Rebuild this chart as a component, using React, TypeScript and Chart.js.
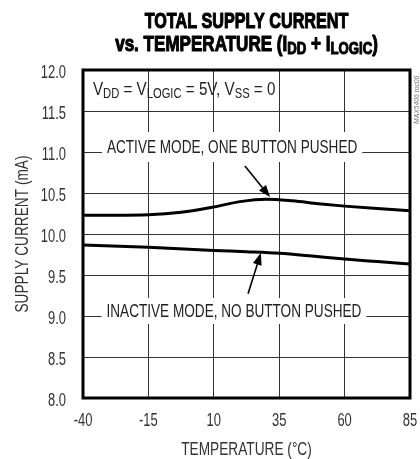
import React, { useEffect, useRef } from "react";
import { Chart, registerables } from "chart.js";

Chart.register(...registerables);

// ---- data ----
const temperatureTicks = [-40, -15, 10, 35, 60, 85];
const currentTicks = [8.0, 8.5, 9.0, 9.5, 10.0, 10.5, 11.0, 11.5, 12.0];

const activeTemps = [-40, -27.5, -15, -2.5, 10, 20, 30, 40, 50, 60, 72.5, 85];
const activeCurrent = [10.23, 10.23, 10.235, 10.265, 10.33, 10.395, 10.425, 10.405, 10.37, 10.34, 10.31, 10.285];

const inactiveTemps = [-40, -15, 10, 22.5, 35, 47.5, 60, 72.5, 85];
const inactiveCurrent = [9.866, 9.838, 9.8, 9.784, 9.765, 9.732, 9.695, 9.664, 9.634];

// ---- text ----
type Seg = [string, boolean];
const titleLine1: Seg[] = [["TOTAL SUPPLY CURRENT", false]];
const titleLine2: Seg[] = [["vs. TEMPERATURE (I", false], ["DD", true], [" + I", false], ["LOGIC", true], [")", false]];
const conditionLabel: Seg[] = [["V", false], ["DD", true], [" = V", false], ["LOGIC", true], [" = 5V, V", false], ["SS", true], [" = 0", false]];
const activeLabel = "ACTIVE MODE, ONE BUTTON PUSHED";
const inactiveLabel = "INACTIVE MODE, NO BUTTON PUSHED";
const xTitle = "TEMPERATURE (\u00B0C)";
const yTitle = "SUPPLY CURRENT (mA)";
const watermark = "MAX5406 toc06";

// annotation anchors in data units [temperature, current]
const conditionAnchor = [-36.2, 11.695];
const activeLabelAnchor = [17.0, 11.0];
const inactiveLabelAnchor = [17.7, 9.0];
const activeArrow = [[21.9, 10.83], [31.5, 10.45]];
const inactiveArrow = [[23.1, 9.27], [28.0, 9.77]];

const FONT = '"Liberation Sans", Arial, Helvetica, sans-serif';

interface TextOpts {
  size: number;
  subSize?: number;
  subDrop?: number;
  weight?: string;
  style?: string;
  sx: number;
  align: "left" | "center" | "right";
  color: string;
  stroke?: number;
}

function segWidth(ctx: CanvasRenderingContext2D, segs: Seg[], o: TextOpts) {
  let total = 0;
  for (const [t, sub] of segs) {
    ctx.font = `${o.style || "normal"} ${o.weight || "normal"} ${sub ? o.subSize : o.size}px ${FONT}`;
    total += ctx.measureText(t).width;
  }
  return total;
}

function drawText(ctx: CanvasRenderingContext2D, segs: Seg[], x: number, y: number, o: TextOpts) {
  const total = segWidth(ctx, segs, o);
  ctx.save();
  ctx.translate(x, y);
  ctx.scale(o.sx, 1);
  ctx.fillStyle = o.color;
  ctx.strokeStyle = o.color;
  ctx.lineJoin = "round";
  ctx.textAlign = "left";
  ctx.textBaseline = "alphabetic";
  let cx = o.align === "left" ? 0 : o.align === "center" ? -total / 2 : -total;
  for (const [t, sub] of segs) {
    ctx.font = `${o.style || "normal"} ${o.weight || "normal"} ${sub ? o.subSize : o.size}px ${FONT}`;
    const ty = sub ? o.subDrop || 0 : 0;
    ctx.fillText(t, cx, ty);
    if (o.stroke) {
      ctx.lineWidth = o.stroke;
      ctx.strokeText(t, cx, ty);
    }
    cx += ctx.measureText(t).width;
  }
  ctx.restore();
  return total * o.sx;
}

function drawArrow(ctx: CanvasRenderingContext2D, x1: number, y1: number, x2: number, y2: number) {
  const ang = Math.atan2(y2 - y1, x2 - x1);
  const len = 12;
  const hw = 4.5;
  const bx = x2 - len * Math.cos(ang);
  const by = y2 - len * Math.sin(ang);
  ctx.strokeStyle = "#000";
  ctx.lineWidth = 1.6;
  ctx.beginPath();
  ctx.moveTo(x1, y1);
  ctx.lineTo(bx, by);
  ctx.stroke();
  ctx.fillStyle = "#000";
  ctx.beginPath();
  ctx.moveTo(x2, y2);
  ctx.lineTo(bx + hw * Math.sin(ang), by - hw * Math.cos(ang));
  ctx.lineTo(bx - hw * Math.sin(ang), by + hw * Math.cos(ang));
  ctx.closePath();
  ctx.fill();
}

const TICK: TextOpts = { size: 18, sx: 0.72, align: "right", color: "#333" };
const LABEL: TextOpts = { size: 19, sx: 0.715, align: "center", color: "#222" };
const COND: TextOpts = { size: 19, subSize: 14, subDrop: 3, sx: 0.8, align: "left", color: "#222" };
const AXIS_T: TextOpts = { size: 18, sx: 0.76, align: "center", color: "#333" };
const TITLE1: TextOpts = { size: 22, weight: "bold", sx: 0.735, align: "center", color: "#000", stroke: 1.1 };
const TITLE2: TextOpts = { size: 22, subSize: 17, subDrop: 3, weight: "bold", sx: 0.775, align: "center", color: "#000", stroke: 1.1 };

const annotationPlugin = {
  id: "annotations",
  beforeDatasetsDraw(chart: any) {
    const { ctx } = chart;
    const x = chart.scales.x;
    const y = chart.scales.y;
    ctx.save();
    drawText(ctx, conditionLabel, x.getPixelForValue(conditionAnchor[0]), y.getPixelForValue(conditionAnchor[1]), COND);
    const labels: [string, number[], number, number][] = [
      [activeLabel, activeLabelAnchor, 21, 9],
      [inactiveLabel, inactiveLabelAnchor, 19, 7],
    ];
    for (const [text, anchor, up, down] of labels) {
      const w = segWidth(ctx, [[text, false]], LABEL) * LABEL.sx;
      const cx = x.getPixelForValue(anchor[0]);
      const by = y.getPixelForValue(anchor[1]) + 1;
      ctx.fillStyle = "#fff";
      ctx.fillRect(cx - w / 2 - 5, by - up, w + 10, up + down);
      drawText(ctx, [[text, false]], cx, by, LABEL);
    }
    ctx.restore();
  },
  afterDatasetsDraw(chart: any) {
    const { ctx } = chart;
    const x = chart.scales.x;
    const y = chart.scales.y;
    ctx.save();
    for (const a of [activeArrow, inactiveArrow]) {
      drawArrow(ctx, x.getPixelForValue(a[0][0]), y.getPixelForValue(a[0][1]), x.getPixelForValue(a[1][0]), y.getPixelForValue(a[1][1]));
    }
    ctx.restore();
  },
  afterDraw(chart: any) {
    const { ctx, chartArea } = chart;
    const { left, right, top, bottom } = chartArea;
    const xs = chart.scales.x;
    const ys = chart.scales.y;
    const cx = (left + right) / 2;
    ctx.save();
    // frame
    ctx.strokeStyle = "#000";
    ctx.lineWidth = 3;
    ctx.strokeRect(left, top, right - left, bottom - top);
    // tick labels from the library's scales
    for (const t of ys.ticks) {
      const py = ys.getPixelForValue(t.value);
      drawText(ctx, [[Number(t.value).toFixed(1), false]], left - 17, py + 8, TICK);
    }
    for (const t of xs.ticks) {
      const px = xs.getPixelForValue(t.value);
      drawText(ctx, [[String(t.value), false]], px, bottom + 28, { ...TICK, align: "center" });
    }
    // title
    drawText(ctx, titleLine1, cx, 28, TITLE1);
    drawText(ctx, titleLine2, cx, 51, TITLE2);
    // axis titles
    drawText(ctx, [[xTitle, false]], cx, 455, AXIS_T);
    ctx.save();
    ctx.translate(28, (top + bottom) / 2);
    ctx.rotate(-Math.PI / 2);
    drawText(ctx, [[yTitle, false]], 0, 0, AXIS_T);
    ctx.restore();
    // watermark
    ctx.save();
    ctx.translate(419, 124);
    ctx.rotate(-Math.PI / 2);
    drawText(ctx, [[watermark, false]], 0, 0, { size: 8, style: "italic", sx: 0.85, align: "left", color: "#777" });
    ctx.restore();
    ctx.restore();
  },
};

export default function App() {
  const canvasRef = useRef<HTMLCanvasElement | null>(null);

  useEffect(() => {
    const canvas = canvasRef.current;
    if (!canvas) return;
    const chart = new Chart(canvas, {
      type: "line",
      data: {
        datasets: [
          {
            label: "Active mode",
            data: activeTemps.map((t, i) => ({ x: t, y: activeCurrent[i] })),
            borderColor: "#000",
            borderWidth: 3,
            pointRadius: 0,
            cubicInterpolationMode: "monotone",
            fill: false,
          },
          {
            label: "Inactive mode",
            data: inactiveTemps.map((t, i) => ({ x: t, y: inactiveCurrent[i] })),
            borderColor: "#000",
            borderWidth: 3,
            pointRadius: 0,
            cubicInterpolationMode: "monotone",
            fill: false,
          },
        ],
      },
      options: {
        responsive: false,
        animation: false,
        devicePixelRatio: 1,
        layout: { padding: { top: 70, right: 10, left: 0, bottom: 0 } },
        plugins: {
          legend: { display: false },
          title: { display: false },
          tooltip: { enabled: false },
        },
        scales: {
          x: {
            type: "linear",
            min: temperatureTicks[0],
            max: temperatureTicks[temperatureTicks.length - 1],
            afterBuildTicks: (s: any) => {
              s.ticks = temperatureTicks.map((v) => ({ value: v }));
            },
            afterFit: (s: any) => {
              s.height = 61;
            },
            grid: { color: "#333", lineWidth: 1, drawTicks: false },
            border: { display: false },
            ticks: { display: false },
          },
          y: {
            type: "linear",
            min: currentTicks[0],
            max: currentTicks[currentTicks.length - 1],
            afterBuildTicks: (s: any) => {
              s.ticks = currentTicks.map((v) => ({ value: v }));
            },
            afterFit: (s: any) => {
              s.width = 83;
            },
            grid: { color: "#333", lineWidth: 1, drawTicks: false },
            border: { display: false },
            ticks: { display: false },
          },
        },
      },
      plugins: [annotationPlugin],
    } as any);
    return () => chart.destroy();
  }, []);

  return (
    <div style={{ position: "fixed", left: 0, top: 0, width: 420, height: 459, background: "#fff" }}>
      <canvas ref={canvasRef} width={420} height={459} style={{ display: "block" }} />
    </div>
  );
}
